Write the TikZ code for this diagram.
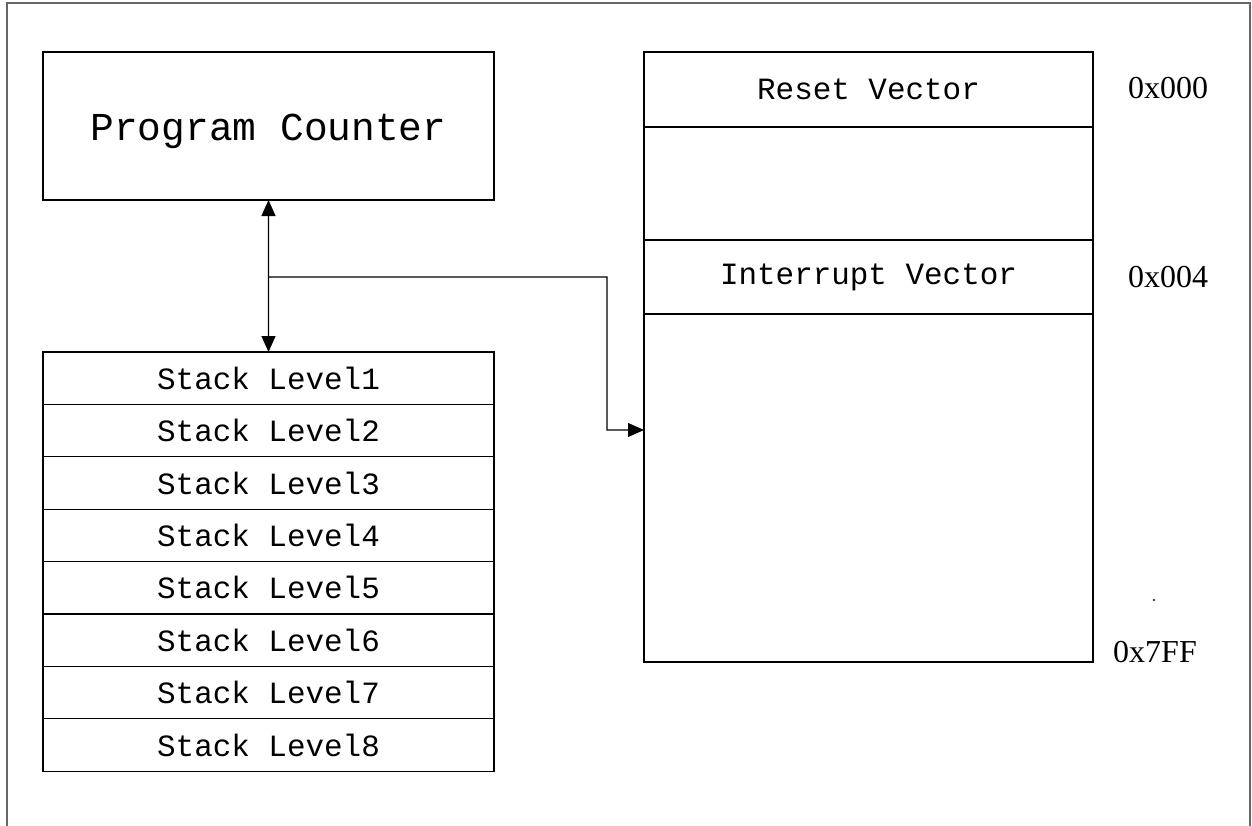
\documentclass[tikz,border=0pt]{standalone}
\usepackage{fontspec}
\setmainfont{Liberation Serif}
\setmonofont{Liberation Mono}
\usetikzlibrary{arrows.meta}
\tikzset{
	cell/.style={draw, line width=0.6pt, inner sep=0pt, outer sep=0pt, font=\ttfamily\fontsize{17.6}{20}\selectfont},
	pcbox/.style={cell, minimum width=9.02cm, minimum height=2.96cm, font=\ttfamily\fontsize{22.5}{26}\selectfont},
	stackbox/.style={cell, minimum width=9.02cm, minimum height=1.048cm, anchor=north west},
	membox/.style={cell, minimum width=8.98cm, anchor=north west},
	addr/.style={font=\fontsize{18.2}{21}\selectfont},
	tip/.tip={Triangle[length=0.32cm,width=0.28cm]},
	link/.style={line width=0.6pt, -tip}
}

\begin{document}
\begin{tikzpicture}
			%%%%% START %%%%%
			
			\useasboundingbox (0, 0) rectangle (25.04, 16.5);
			\draw[line width=0.6pt, color=black!60] (0.14, -0.2) -- (0.14, 16.44) -- (25.0, 16.44) -- (25.0, -0.2);
			
			\node[pcbox, text height=0.75cm] (pc) at (5.37, 13.98) {Program Counter};
			
			\foreach \i in {1,...,8}
				\node[stackbox] (lvl\i) at (0.86, {9.46-1.048*(\i-1)}) {Stack Level\i};
			
			\node[membox, minimum height=1.5cm] (reset) at (12.88, 15.46) {Reset Vector};
			\node[membox, minimum height=2.26cm] (gap) at (reset.south west) {};
			\node[membox, minimum height=1.48cm] (intr) at (gap.south west) {Interrupt Vector};
			\node[membox, minimum height=6.96cm] (codemem) at (intr.south west) {};
			
			\node[addr] (a000) at (23.36, 14.74) {0x000};
			\node[addr] (a004) at (23.36, 10.96) {0x004};
			\node[addr] (a7ff) at (23.1, 3.46) {0x7FF};
			\fill (23.08, 4.5) circle (0.6pt);
			
			\draw[link, tip-tip] (pc.south) -- (lvl1.north);
			
			\coordinate (tap) at (pc.south |- intr.west);
			\coordinate (bend) at (12.14, 10.96);
			\coordinate (ymark) at (0, 7.9);
			\coordinate (entry) at (codemem.west |- ymark);
			\draw[link] (tap) -- (bend) |- (entry);
			
			%%%%% END %%%%%
\end{tikzpicture}
\end{document}
